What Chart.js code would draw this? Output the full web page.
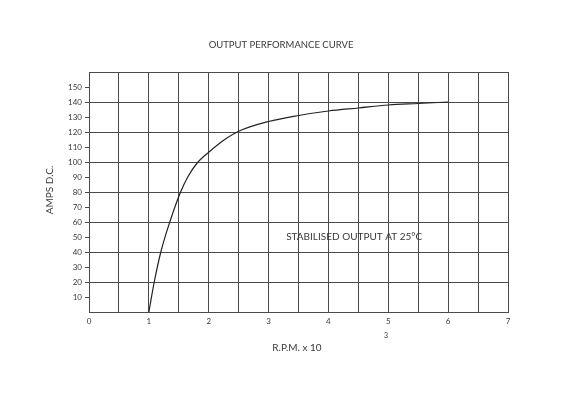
<!DOCTYPE html>
<html>
<head>
<meta charset="utf-8">
<script src="https://cdn.jsdelivr.net/npm/chart.js@4/dist/chart.umd.min.js"></script>
<style>
html,body{margin:0;padding:0;background:#fff;}
#wrap{width:566px;height:400px;position:relative;}
</style>
</head>
<body>
<div id="wrap"><canvas id="c" width="566" height="400"></canvas></div>
<script>
// Data
const rpm  = [1.0, 1.09, 1.2, 1.35, 1.53, 1.65, 1.8, 2.0, 2.25, 2.5, 3.0, 3.5, 4.0, 4.5, 5.0, 5.5, 6.0];
const amps = [0, 20, 40, 60, 80, 90, 99, 106.5, 114.5, 120.5, 127, 131, 134, 136, 138, 139, 140];
const xTickLabels = ['0','1','2','3','4','5','6','7'];
const yTickLabels = ['10','20','30','40','50','60','70','80','90','100','110','120','130','140','150'];
const chartTitle = 'OUTPUT PERFORMANCE CURVE';
const yTitle = 'AMPS D.C.';
const xTitle = 'R.P.M. x 10';
const xTitleSup = '3';
const note = 'STABILISED OUTPUT AT 25°C';

const FONT = 'Lato, "DejaVu Sans", sans-serif';
const gridCol = '#4a4a4a';
const textCol = '#3a3a3a';

const textPlugin = {
  id: 'texts',
  afterDraw(chart) {
    const ctx = chart.ctx;
    const xs = chart.scales.x, ys = chart.scales.y;
    ctx.save();
    ctx.fillStyle = textCol;
    ctx.textBaseline = 'middle';
    ctx.textAlign = 'center';
    ctx.font = '9.5px ' + FONT;
    ctx.fillText(chartTitle, 281, 45);
    ctx.font = '10px ' + FONT;
    ctx.fillText(xTitle, 297, 348);
    ctx.font = '7px ' + FONT;
    ctx.fillText(xTitleSup, 386, 336);
    ctx.save();
    ctx.translate(50, 190);
    ctx.rotate(-Math.PI/2);
    ctx.font = '10px ' + FONT;
    ctx.fillText(yTitle, 0, 0);
    ctx.restore();
    // note inside plot area (anchored to data coordinates)
    ctx.font = '10px ' + FONT;
    ctx.fillText(note, xs.getPixelForValue(4.43), ys.getPixelForValue(50));
    ctx.restore();
  }
};

new Chart(document.getElementById('c'), {
  type: 'line',
  data: {
    datasets: [{
      data: rpm.map((x, i) => ({x: x, y: amps[i]})),
      borderColor: '#222',
      borderWidth: 1.2,
      pointRadius: 0,
      fill: false,
      cubicInterpolationMode: 'monotone'
    }]
  },
  options: {
    responsive: false,
    animation: false,
    devicePixelRatio: 1,
    layout: { padding: { left: 0, right: 58, top: 72, bottom: 68 } },
    plugins: { legend: { display: false }, tooltip: { enabled: false } },
    scales: {
      x: {
        type: 'linear',
        min: 0, max: 7,
        afterFit(s) { s.height = 20; },
        afterBuildTicks(s) {
          const t = [];
          for (let v = 0; v <= 7.0001; v += 0.5) t.push({ value: Math.round(v*10)/10 });
          s.ticks = t;
        },
        ticks: {
          autoSkip: false,
          maxRotation: 0,
          padding: 5,
          color: textCol,
          font: { size: 8, family: FONT },
          callback: (v) => Number.isInteger(v) ? xTickLabels[v] : ''
        },
        grid: { color: gridCol, lineWidth: 1, drawTicks: false },
        border: { color: gridCol, width: 1 }
      },
      y: {
        type: 'linear',
        min: 0, max: 160,
        afterFit(s) { s.width = 89; },
        afterBuildTicks(s) {
          const t = [];
          for (let v = 0; v <= 160; v += 10) t.push({ value: v });
          s.ticks = t;
        },
        ticks: {
          autoSkip: false,
          padding: 3,
          color: textCol,
          font: { size: 8, family: FONT },
          callback: (v) => (v > 0 && v < 160) ? yTickLabels[v/10 - 1] : ''
        },
        grid: {
          color: (c) => (c.tick && c.tick.value % 20 === 0) ? gridCol : 'rgba(0,0,0,0)',
          tickColor: (c) => (c.tick && c.tick.value > 0 && c.tick.value < 160) ? gridCol : 'rgba(0,0,0,0)',
          lineWidth: 1,
          tickLength: 4
        },
        border: { color: gridCol, width: 1 }
      }
    }
  },
  plugins: [textPlugin, {
    id: 'frame',
    afterDraw(chart) {
      const a = chart.chartArea, ctx = chart.ctx;
      ctx.save();
      ctx.strokeStyle = gridCol;
      ctx.lineWidth = 1;
      ctx.strokeRect(Math.round(a.left)+0.5, Math.round(a.top)+0.5, Math.round(a.right-a.left), Math.round(a.bottom-a.top));
      ctx.restore();
    }
  }]
});
</script>
</body>
</html>
